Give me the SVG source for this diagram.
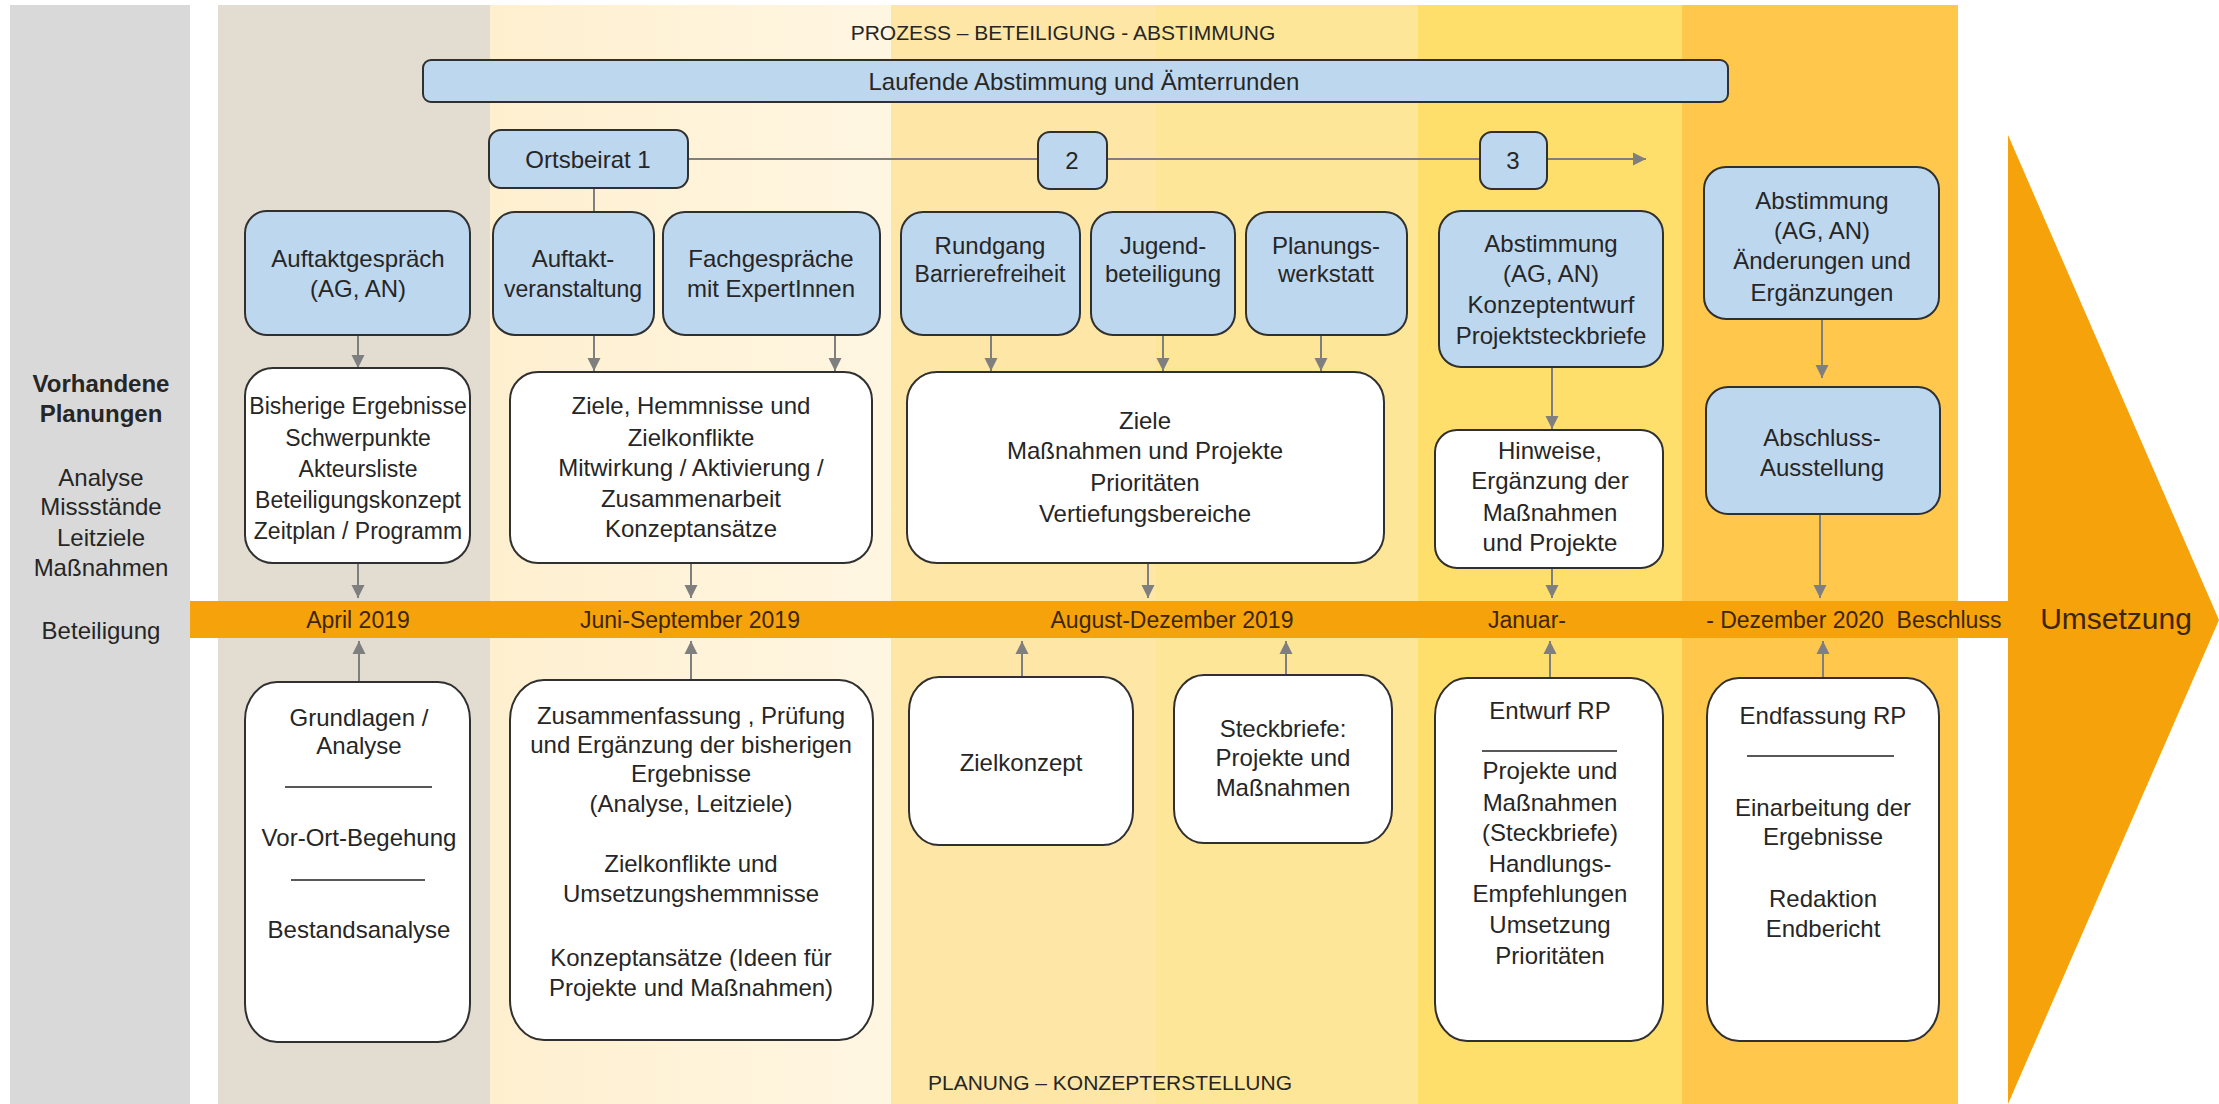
<svg xmlns="http://www.w3.org/2000/svg" width="2219" height="1104" viewBox="0 0 2219 1104">
  <style>
    text { font-family: "Liberation Sans", Arial, sans-serif; font-size: 24px; fill: #262626; text-anchor: middle; }
    .bold { font-weight: bold; }
    .narrow { font-size: 23px; }
    .head { font-size: 21px; }
    .time { font-size: 23px; fill: #3d2606; }
    .big { font-size: 30px; fill: #3d2606; }
    .blue { fill: #BDD7EE; stroke: #303030; stroke-width: 2; }
    .white { fill: #FFFFFF; stroke: #303030; stroke-width: 2; }
    .sep { stroke: #202020; stroke-width: 1.6; }
    .con { stroke: #7F7F7F; stroke-width: 2; fill: none; }
    .arr { marker-end: url(#ah); }
  </style>
  <defs>
    <marker id="ah" viewBox="0 0 10 10" refX="10" refY="5" markerWidth="13" markerHeight="18" markerUnits="userSpaceOnUse" orient="auto">
      <path d="M0,0 L10,5 L0,10 z" fill="#7F7F7F"/>
    </marker>
    <linearGradient id="g2" x1="0" y1="0" x2="1" y2="0">
      <stop offset="0" stop-color="#FEEFCF"/>
      <stop offset="1" stop-color="#FFF6E2"/>
    </linearGradient>
  </defs>

  <!-- background phases -->
  <g id="background">
    <rect x="0" y="0" width="2219" height="1104" fill="#FFFFFF"/>
    <rect x="10" y="5" width="180" height="1099" fill="#D9D9D9"/>
    <rect x="218" y="5" width="272" height="1099" fill="#E3DDD1"/>
    <rect x="490" y="5" width="401" height="1099" fill="url(#g2)"/>
    <rect x="891" y="5" width="265" height="1099" fill="#FDE6A6"/>
    <rect x="1156" y="5" width="262" height="1099" fill="#FEE698"/>
    <rect x="1418" y="5" width="264" height="1099" fill="#FFDF6C"/>
    <rect x="1682" y="5" width="276" height="1099" fill="#FFC84C"/>
  </g>

  <!-- timeline and outcome arrow -->
  <g id="timeline">
    <rect x="190" y="601" width="1820" height="37" fill="#F6A20A"/>
    <polygon points="2008,135 2219,620 2008,1104" fill="#F6A20A"/>
    <text class="time" x="358" y="628">April 2019</text>
    <text class="time" x="690" y="628">Juni-September 2019</text>
    <text class="time" x="1172" y="628">August-Dezember 2019</text>
    <text class="time" x="1527" y="628">Januar-</text>
    <text class="time" x="1795" y="628">- Dezember 2020</text>
    <text class="time" x="1949" y="628">Beschluss</text>
    <text class="big" x="2116" y="629">Umsetzung</text>
  </g>

  <!-- left legend -->
  <g id="legend">
    <text class="bold" x="101" y="392">Vorhandene</text>
    <text class="bold" x="101" y="422">Planungen</text>
    <text x="101" y="486">Analyse</text>
    <text x="101" y="515">Missstände</text>
    <text x="101" y="546">Leitziele</text>
    <text x="101" y="576">Maßnahmen</text>
    <text x="101" y="639">Beteiligung</text>
  </g>

  <text class="head" x="1063" y="40">PROZESS – BETEILIGUNG - ABSTIMMUNG</text>
  <text class="head" x="1110" y="1090">PLANUNG – KONZEPTERSTELLUNG</text>

  <!-- connectors -->
  <g id="connectors">
    <line class="con" x1="688" y1="159" x2="1038" y2="159"/>
    <line class="con" x1="1107" y1="159" x2="1480" y2="159"/>
    <line class="con arr" x1="1547" y1="159" x2="1646" y2="159"/>
    <line class="con" x1="594" y1="188" x2="594" y2="212"/>

    <line class="con arr" x1="358" y1="335" x2="358" y2="368"/>
    <line class="con arr" x1="594" y1="335" x2="594" y2="371"/>
    <line class="con arr" x1="835" y1="335" x2="835" y2="371"/>
    <line class="con arr" x1="991" y1="335" x2="991" y2="371"/>
    <line class="con arr" x1="1163" y1="335" x2="1163" y2="371"/>
    <line class="con arr" x1="1321" y1="335" x2="1321" y2="371"/>
    <line class="con arr" x1="1552" y1="367" x2="1552" y2="429"/>
    <line class="con arr" x1="1822" y1="319" x2="1822" y2="378"/>

    <line class="con arr" x1="358" y1="563" x2="358" y2="598"/>
    <line class="con arr" x1="691" y1="563" x2="691" y2="598"/>
    <line class="con arr" x1="1148" y1="563" x2="1148" y2="598"/>
    <line class="con arr" x1="1552" y1="568" x2="1552" y2="598"/>
    <line class="con arr" x1="1820" y1="514" x2="1820" y2="598"/>

    <line class="con arr" x1="359" y1="682" x2="359" y2="641"/>
    <line class="con arr" x1="691" y1="680" x2="691" y2="641"/>
    <line class="con arr" x1="1022" y1="677" x2="1022" y2="641"/>
    <line class="con arr" x1="1286" y1="675" x2="1286" y2="641"/>
    <line class="con arr" x1="1550" y1="678" x2="1550" y2="641"/>
    <line class="con arr" x1="1823" y1="678" x2="1823" y2="641"/>
  </g>

  <!-- participation track -->
  <g id="laufende-abstimmung">
    <rect class="blue" x="423" y="60" width="1305" height="42" rx="8"/>
    <text x="1084" y="90">Laufende Abstimmung und Ämterrunden</text>
  </g>
  <g id="ortsbeirat-1">
    <rect class="blue" x="489" y="130" width="199" height="58" rx="12"/>
    <text x="588" y="168">Ortsbeirat 1</text>
  </g>
  <g id="ortsbeirat-2">
    <rect class="blue" x="1038" y="132" width="69" height="57" rx="12"/>
    <text x="1072" y="169">2</text>
  </g>
  <g id="ortsbeirat-3">
    <rect class="blue" x="1480" y="132" width="67" height="57" rx="12"/>
    <text x="1513" y="169">3</text>
  </g>

  <g id="auftaktgespraech">
    <rect class="blue" x="245" y="211" width="225" height="124" rx="22"/>
    <text x="358" y="267">Auftaktgespräch</text>
    <text x="358" y="297">(AG, AN)</text>
  </g>
  <g id="auftaktveranstaltung">
    <rect class="blue" x="493" y="212" width="161" height="123" rx="22"/>
    <text x="573" y="267">Auftakt-</text>
    <text class="narrow" x="573" y="297">veranstaltung</text>
  </g>
  <g id="fachgespraeche">
    <rect class="blue" x="663" y="212" width="217" height="123" rx="22"/>
    <text x="771" y="267">Fachgespräche</text>
    <text x="771" y="297">mit ExpertInnen</text>
  </g>
  <g id="rundgang">
    <rect class="blue" x="901" y="212" width="179" height="123" rx="22"/>
    <text x="990" y="254">Rundgang</text>
    <text class="narrow" x="990" y="282">Barrierefreiheit</text>
  </g>
  <g id="jugendbeteiligung">
    <rect class="blue" x="1091" y="212" width="144" height="123" rx="22"/>
    <text x="1163" y="254">Jugend-</text>
    <text x="1163" y="282">beteiligung</text>
  </g>
  <g id="planungswerkstatt">
    <rect class="blue" x="1246" y="212" width="161" height="123" rx="22"/>
    <text x="1326" y="254">Planungs-</text>
    <text x="1326" y="282">werkstatt</text>
  </g>
  <g id="abstimmung-konzeptentwurf">
    <rect class="blue" x="1439" y="211" width="224" height="156" rx="22"/>
    <text x="1551" y="252">Abstimmung</text>
    <text x="1551" y="282">(AG, AN)</text>
    <text x="1551" y="313">Konzeptentwurf</text>
    <text x="1551" y="344">Projektsteckbriefe</text>
  </g>
  <g id="abstimmung-aenderungen">
    <rect class="blue" x="1704" y="167" width="235" height="152" rx="22"/>
    <text x="1822" y="209">Abstimmung</text>
    <text x="1822" y="239">(AG, AN)</text>
    <text x="1822" y="269">Änderungen und</text>
    <text x="1822" y="301">Ergänzungen</text>
  </g>
  <g id="abschluss-ausstellung">
    <rect class="blue" x="1706" y="387" width="234" height="127" rx="22"/>
    <text x="1822" y="446">Abschluss-</text>
    <text x="1822" y="476">Ausstellung</text>
  </g>

  <!-- results above the timeline -->
  <g id="bisherige-ergebnisse">
    <rect class="white" x="245" y="368" width="225" height="195" rx="28"/>
    <text class="narrow" x="358" y="414">Bisherige Ergebnisse</text>
    <text class="narrow" x="358" y="446">Schwerpunkte</text>
    <text class="narrow" x="358" y="477">Akteursliste</text>
    <text class="narrow" x="358" y="508">Beteiligungskonzept</text>
    <text class="narrow" x="358" y="539">Zeitplan / Programm</text>
  </g>
  <g id="ziele-hemmnisse">
    <rect class="white" x="510" y="372" width="362" height="191" rx="28"/>
    <text x="691" y="414">Ziele, Hemmnisse und</text>
    <text x="691" y="446">Zielkonflikte</text>
    <text x="691" y="476">Mitwirkung / Aktivierung /</text>
    <text x="691" y="507">Zusammenarbeit</text>
    <text x="691" y="537">Konzeptansätze</text>
  </g>
  <g id="ziele-massnahmen">
    <rect class="white" x="907" y="372" width="477" height="191" rx="30"/>
    <text x="1145" y="429">Ziele</text>
    <text x="1145" y="459">Maßnahmen und Projekte</text>
    <text x="1145" y="491">Prioritäten</text>
    <text x="1145" y="522">Vertiefungsbereiche</text>
  </g>
  <g id="hinweise">
    <rect class="white" x="1435" y="430" width="228" height="138" rx="22"/>
    <text x="1550" y="459">Hinweise,</text>
    <text x="1550" y="489">Ergänzung der</text>
    <text x="1550" y="521">Maßnahmen</text>
    <text x="1550" y="551">und Projekte</text>
  </g>

  <!-- planning work below the timeline -->
  <g id="grundlagen">
    <rect class="white" x="245" y="682" width="225" height="360" rx="32" ry="38"/>
    <text x="359" y="726">Grundlagen /</text>
    <text x="359" y="754">Analyse</text>
    <line class="sep" x1="285" y1="787" x2="432" y2="787"/>
    <text x="359" y="846">Vor-Ort-Begehung</text>
    <line class="sep" x1="291" y1="880" x2="425" y2="880"/>
    <text x="359" y="938">Bestandsanalyse</text>
  </g>
  <g id="zusammenfassung">
    <rect class="white" x="510" y="680" width="363" height="360" rx="34" ry="40"/>
    <text x="691" y="724">Zusammenfassung , Prüfung</text>
    <text x="691" y="753">und Ergänzung der bisherigen</text>
    <text x="691" y="782">Ergebnisse</text>
    <text x="691" y="812">(Analyse, Leitziele)</text>
    <text x="691" y="872">Zielkonflikte und</text>
    <text x="691" y="902">Umsetzungshemmnisse</text>
    <text x="691" y="966">Konzeptansätze (Ideen für</text>
    <text x="691" y="996">Projekte und Maßnahmen)</text>
  </g>
  <g id="zielkonzept">
    <rect class="white" x="909" y="677" width="224" height="168" rx="30" ry="34"/>
    <text x="1021" y="771">Zielkonzept</text>
  </g>
  <g id="steckbriefe">
    <rect class="white" x="1174" y="675" width="218" height="168" rx="30" ry="34"/>
    <text x="1283" y="737">Steckbriefe:</text>
    <text x="1283" y="766">Projekte und</text>
    <text x="1283" y="796">Maßnahmen</text>
  </g>
  <g id="entwurf-rp">
    <rect class="white" x="1435" y="678" width="228" height="363" rx="32" ry="38"/>
    <text x="1550" y="719">Entwurf RP</text>
    <line class="sep" x1="1482" y1="751" x2="1617" y2="751"/>
    <text x="1550" y="779">Projekte und</text>
    <text x="1550" y="811">Maßnahmen</text>
    <text x="1550" y="841">(Steckbriefe)</text>
    <text x="1550" y="872">Handlungs-</text>
    <text x="1550" y="902">Empfehlungen</text>
    <text x="1550" y="933">Umsetzung</text>
    <text x="1550" y="964">Prioritäten</text>
  </g>
  <g id="endfassung-rp">
    <rect class="white" x="1707" y="678" width="232" height="363" rx="32" ry="38"/>
    <text x="1823" y="724">Endfassung RP</text>
    <line class="sep" x1="1747" y1="756" x2="1894" y2="756"/>
    <text x="1823" y="816">Einarbeitung der</text>
    <text x="1823" y="845">Ergebnisse</text>
    <text x="1823" y="907">Redaktion</text>
    <text x="1823" y="937">Endbericht</text>
  </g>
</svg>
